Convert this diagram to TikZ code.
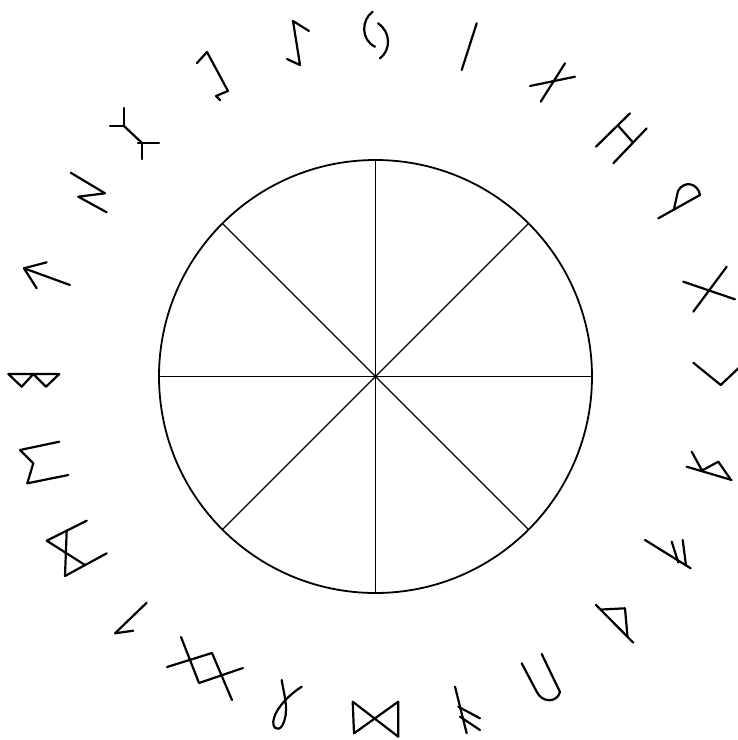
\documentclass[tikz,border=0pt]{standalone}
\begin{document}
\begin{tikzpicture}[x=1pt,y=-1pt,
  wheel/.style={line width=1.8pt},
  spoke/.style={line width=1.3pt},
  rune/.style={line width=2.2pt,line cap=round,line join=round}
]
  \useasboundingbox (0,0) rectangle (738,740);
  \clip (0,0) rectangle (738,740);
  \coordinate (ctr) at (375.5,376.5);
  % wheel with eight spokes
  \draw[wheel] (ctr) circle [radius=216.5];
  \foreach \a in {0,45,...,315}
    \draw[spoke] (ctr) -- ++(\a:216.5);
  % runes, top then clockwise
  \draw[rune] (372.7,11.7) .. controls (361,20) and (361,40) .. (375,46.7); % jera
  \draw[rune] (378,23.3) .. controls (391,32) and (391,50) .. (380,58.3);
  \draw[rune] (461.7,70) -- (476.7,23.3); % isa
  \draw[rune] (530,86) -- (575,76.7); \draw[rune] (540.7,101.7) -- (565,63.3); % naudhiz
  \draw[rune] (596,146.7) -- (630,113.3); \draw[rune] (613.3,163.3) -- (646.7,128.3); % hagalaz
  \draw[rune] (618,125.5) -- (633,142.5);
  \draw[rune] (658.3,218.3) -- (700,195); % wunjo
  \draw[rune] (674,209) -- (678,191) .. controls (684,180) and (698,183) .. (700,195);
  \draw[rune] (683.3,281.7) -- (735,299.3); \draw[rune] (693.3,311.7) -- (726.7,266.7); % gebo
  \draw[rune] (693.3,362.7) -- (720.7,385) -- (745,362); % kenaz
  \draw[rune] (686.7,466.7) -- (731.7,480); % raidho
  \draw[rune] (691.7,451.7) -- (702,470.5) -- (718.3,461.7) -- (730,478.5);
  \draw[rune] (645,540) -- (690.7,568.3); % ansuz
  \draw[rune] (671.7,541.7) -- (678.3,562.5); \draw[rune] (682.7,540) -- (686,565.5);
  \draw[rune] (596,605) -- (633.3,642.7); % thurisaz
  \draw[rune] (601.7,609.5) -- (625,608.3) -- (627.5,636.5);
  \draw[rune] (521.7,663.3) -- (536.7,691.7) .. controls (542,703) and (557,703) .. (560,692) -- (541.7,654); % uruz
  \draw[rune] (455,686.7) -- (466.7,733.3); % fehu
  \draw[rune] (458.3,706.7) -- (480,718.3); \draw[rune] (460,716.7) -- (480,730);
  \draw[rune] (352.7,701.7) -- (398.3,736.7) -- (398.3,701.7) -- (354,733.3) -- cycle; % dagaz
  \draw[rune] (281.7,680) .. controls (284,695) and (290,712) .. (282,726) % othala
    .. controls (278,732) and (271,728) .. (274,718) .. controls (277,707) and (290,694) .. (301.7,686.7);
  \draw[rune] (181,637) -- (199,683) -- (243,668); % ingwaz
  \draw[rune] (167,667) -- (212,653) -- (232,700);
  \draw[rune] (146.7,602.7) -- (115,633.3) -- (133.3,630.7); % laguz
  \draw[rune] (46.7,540.7) -- (86.7,520.7); \draw[rune] (65,576) -- (106.7,553.3); % mannaz
  \draw[rune] (46.7,540.7) -- (85,565); \draw[rune] (66.7,530.7) -- (65,576);
  \draw[rune] (59.3,441.7) -- (20,450) -- (33.3,463.3) -- (27.3,483.3) -- (68.3,475); % ehwaz
  \draw[rune] (59.3,374) -- (8.3,374) -- (21.7,386.7) -- (33.3,374) -- (46,386.7) -- (59.3,374); % berkano
  \draw[rune] (70,285) -- (24,268.3); \draw[rune] (46.7,262.3) -- (24,268.3) -- (36.7,288.3); % tiwaz
  \draw[rune] (70.7,172.7) -- (105,193.3) -- (78.3,196.7) -- (106.7,212.3); % sowilo
  \draw[rune] (110,126) -- (124,126) -- (124,108); % algiz
  \draw[rune] (124,126) -- (142,143);
  \draw[rune] (138,143) -- (159,143); \draw[rune] (142,143) -- (142,159);
  \draw[rune] (197,63) -- (207,52) -- (228,91) -- (216,96) -- (220,100); % perthro
  \draw[rune] (309,31) -- (293,21) -- (300,65) -- (287,59); % eihwaz
\end{tikzpicture}
\end{document}
